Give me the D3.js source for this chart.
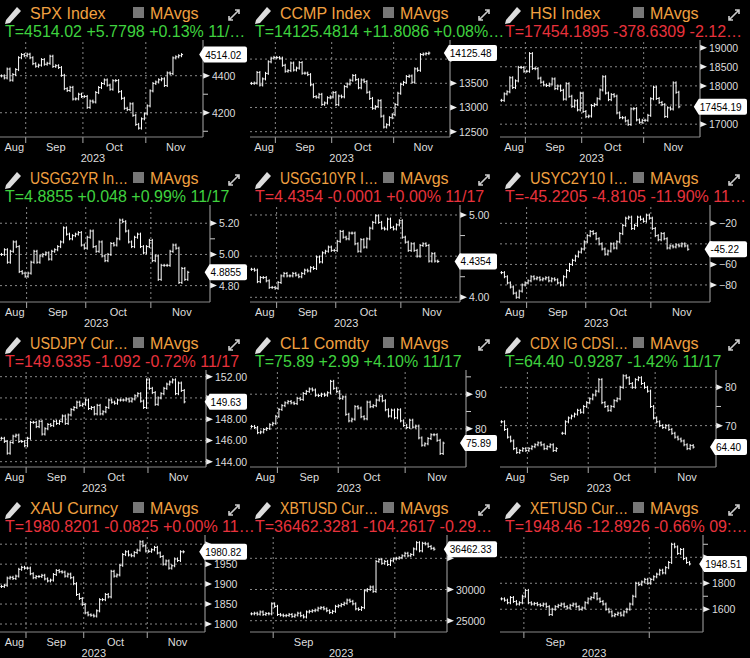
<!DOCTYPE html>
<html><head><meta charset="utf-8">
<script src="https://cdn.jsdelivr.net/npm/d3@7"></script>
<style>body{margin:0;background:#000}svg{display:block}text{font-family:"Liberation Sans",Arial,sans-serif}</style>
</head><body><svg id="c" width="750" height="658"></svg>
<script>
const titles=["SPX Index","CCMP Index","HSI Index","USGG2YR In…","USGG10YR I…","USYC2Y10 I…","USDJPY Cur…","CL1 Comdty","CDX IG CDSI…","XAU Curncy","XBTUSD Cur…","XETUSD Cur…"];
const tLines=["T=4514.02 +5.7798 +0.13% 11/…","T=14125.4814 +11.8086 +0.08%…","T=17454.1895 -378.6309 -2.12…","T=4.8855 +0.048 +0.99% 11/17","T=4.4354 -0.0001 +0.00% 11/17","T=-45.2205 -4.8105 -11.90% 11…","T=149.6335 -1.092 -0.72% 11/17","T=75.89 +2.99 +4.10% 11/17","T=64.40 -0.9287 -1.42% 11/17","T=1980.8201 -0.0825 +0.00% 11…","T=36462.3281 -104.2617 -0.29…","T=1948.46 -12.8926 -0.66% 09:…"];
const tUp=[true,true,false,true,false,false,false,true,true,false,false,false];
const lastLabels=["4514.02","14125.48","17454.19","4.8855","4.4354","-45.22","149.63","75.89","64.40","1980.82","36462.33","1948.51"];
const yDomains=[[4069,4582],[12390,14353],[16665,19147],[4.695,5.304],[3.943,5.097],[-96.6,-4.1],[143.5,152.44],[69,96.4],[59.2,84],[1780,2018],[23189,38414],[1425,2156]];
const majorTicks=[[4200,4400],[12500,13000,13500,14000],[17000,17500,18000,18500,19000],[4.8,5.0,5.2],[4.0,4.5,5.0],[-80,-60,-40,-20],[144,146,148,150,152],[80,90],[70,80],[1800,1850,1900,1950,2000],[25000,30000,35000],[1600,1800,2000]];
const minorTicks=[[4100,4300,4500],[],[],[4.9,5.1],[4.25,4.75],[],[],[75,85,95],[65,75],[],[],[1700,1900,2100]];
const tickFmt=[",.0f","d","d",".2f",".2f","d",".2f","d","d","d","d","d"];
const monthLabels=["Aug","Sep","Oct","Nov"];
const monthIdx=[4.5,19,39.5,61];
const monthBounds=[8.5,28.5,50.5];
const cryptoLabels=["Sep"];
const cryptoIdx=[18];
const cryptoBounds=[7.5,49.5];
const yearLabel="2023";
const axisXs=[203,200,200,210,210,210,206,216,216,205,197,203];
const xMax=[70.5,70.5,70.5,70.5,70.5,70.5,70.5,70.5,70.5,70.5,67.5,67.5];

const spx=[4399,4388,4436,4376,4406,4433,4497,4514,4508,4516,4497,4465,4451,4457,4487,4462,4467,4505,4450,4454,4444,4402,4330,4320,4337,4274,4275,4300,4288,4288,4229,4263,4258,4309,4336,4358,4377,4349,4327,4373,4374,4314,4278,4224,4217,4248,4186,4137,4117,4167,4194,4237,4318,4358,4366,4378,4383,4347,4415,4411,4496,4502,4508,4514];
const ccmp=[13498,13505,13722,13464,13590,13705,13943,14019,14035,14031,14020,13872,13749,13762,13918,13774,13814,13927,13708,13710,13679,13469,13224,13212,13271,13064,13093,13201,13219,13308,13059,13236,13220,13431,13485,13563,13660,13574,13407,13568,13534,13315,13187,12984,13019,13140,12821,12596,12643,12789,12851,13061,13294,13478,13519,13640,13651,13522,13798,13768,14094,14104,14114,14125];
const hsi=[17623,17791,17846,18212,17957,18131,18484,18482,18382,18382,18844,18456,18450,18202,18097,18026,18009,18048,18182,17930,17997,17885,17655,18057,17729,17467,17611,17373,17810,17331,17196,17212,17486,17517,17664,17894,18239,17813,17641,17773,17732,17295,17172,17167,17086,16993,17399,17406,17112,17050,17100,17102,17230,17664,17966,17671,17568,17511,17203,17427,17396,18079,17833,17454];
const us2y=[5.00,5.03,4.95,5.02,5.08,5.05,4.89,4.88,4.86,4.88,4.95,5.02,4.95,4.99,5.00,5.01,4.97,5.02,5.03,5.05,5.08,5.17,5.13,5.10,5.12,5.13,5.14,5.06,5.04,5.11,5.15,5.05,5.02,5.08,4.99,4.96,5.00,5.07,5.06,5.10,5.22,5.21,5.15,5.08,5.05,5.11,5.13,5.05,5.01,5.05,5.09,4.96,4.99,4.84,4.93,4.93,4.93,5.02,5.06,5.04,4.82,4.91,4.84,4.8855];
const us10y=[4.34,4.33,4.19,4.24,4.24,4.20,4.12,4.12,4.11,4.18,4.26,4.29,4.26,4.26,4.29,4.27,4.25,4.29,4.33,4.32,4.36,4.35,4.49,4.43,4.54,4.56,4.61,4.57,4.57,4.68,4.80,4.73,4.71,4.78,4.78,4.65,4.56,4.70,4.61,4.71,4.84,4.91,4.99,4.91,4.84,4.83,4.95,4.85,4.83,4.88,4.93,4.73,4.67,4.57,4.65,4.57,4.50,4.63,4.65,4.63,4.44,4.53,4.44,4.4354];
const yc=[-68,-72,-78,-82,-88,-92,-86,-80,-78,-76,-72,-74,-73,-75,-74,-73,-76,-74,-75,-78,-80,-72,-66,-60,-56,-52,-48,-45,-38,-32,-28,-30,-35,-40,-45,-50,-47,-40,-44,-38,-30,-22,-15,-14,-25,-22,-14,-16,-18,-12,-15,-25,-32,-36,-30,-35,-44,-42,-43,-41,-42,-40,-42,-45.22];
const jpy=[146.2,145.9,144.8,145.8,146.4,146.5,145.9,145.9,145.5,146.2,147.7,147.7,147.3,147.8,146.6,147.1,147.5,147.4,147.8,147.6,147.8,148.3,147.6,148.4,148.9,149.1,149.6,149.3,149.4,149.8,149.0,149.1,148.5,149.3,148.5,148.7,149.1,149.8,149.6,149.5,149.8,149.8,149.8,149.9,149.7,149.9,150.2,150.4,149.7,149.1,151.7,150.9,150.5,149.4,150.0,150.4,150.9,151.3,151.5,151.7,150.4,151.4,150.7,149.63];
const cl1=[80.7,80.4,78.9,79.1,79.8,80.1,81.2,81.6,83.6,85.6,86.7,87.5,87.9,87.5,87.3,88.8,88.5,90.2,90.8,91.5,91.2,89.7,89.6,90.0,89.7,90.4,93.7,91.7,90.8,88.8,89.2,84.2,82.3,82.8,86.4,86.0,83.5,82.9,87.7,86.4,86.7,88.3,89.4,88.1,85.5,83.7,85.4,83.2,85.5,82.3,81.0,80.4,82.5,80.5,80.8,77.4,75.3,75.7,77.2,78.3,78.3,76.7,72.9,75.89];
const cdx=[71,69,67,66,64,63,63.5,64,63.5,64,64.5,65,65.5,65,64,64.5,65,63.5,64,null,68,71,72,72.5,73,74,73.5,75,76,77,78,79,82,76,75,74,75,76.5,77,80,83,82.5,81,80,82,82.5,81,80,79,75,72,71,70,69.5,70,69,68,67,66.5,66,65,64,64.8,64.4];
const xau=[1894,1897,1915,1917,1914,1920,1937,1942,1940,1940,1926,1916,1919,1919,1922,1913,1908,1910,1924,1934,1931,1930,1920,1925,1916,1901,1874,1864,1849,1828,1823,1822,1820,1833,1861,1861,1874,1868,1932,1920,1923,1947,1974,1981,1973,1971,1979,1985,2006,1996,1983,1982,1986,1992,1978,1969,1950,1958,1940,1946,1963,1959,1981,1980.82];
const xbt=[26100,26200,26050,26400,26000,26150,26100,27700,27300,26000,25900,25800,25850,26000,25700,25900,26200,25800,25600,26400,26500,26600,26700,27000,27100,26900,26600,26300,26500,27300,27400,27600,27800,28300,28100,27700,26900,26800,27100,29800,30000,30400,29700,34500,34800,34200,34500,34000,34600,34900,35000,35100,35400,35800,35400,35600,36500,37500,36200,37400,37300,36900,36600,36462];
const xet=[1680,1670,1650,1690,1660,1640,1650,1700,1745,1650,1640,1645,1635,1630,1640,1620,1560,1600,1620,1630,1640,1620,1610,1630,1640,1620,1600,1610,1650,1680,1690,1720,1680,1660,1640,1600,1580,1550,1560,1570,1555,1580,1600,1640,1700,1800,1790,1810,1830,1800,1830,1850,1870,1900,1880,1920,1960,2100,2080,2030,2060,1990,1960,1948.5];
const series=[spx,ccmp,hsi,us2y,us10y,yc,jpy,cl1,cdx,xau,xbt,xet];

const svg=d3.select("#c");
const TOP=42,BOT=137;
series.forEach((data,k)=>{
  const col=k%3,row=Math.floor(k/3);
  const g=svg.append("g").attr("transform",`translate(${col*250},${row*165})`);
  const ax=axisXs[k];
  const x=d3.scaleLinear().domain([-0.5,xMax[k]]).range([0,ax]);
  const y=d3.scaleLinear().domain(yDomains[k]).range([BOT,TOP]);
  const crypto=k>=10;
  g.append("path").attr("d","M6,20 L17,7 L21,11 L10,23 L5,24 Z").attr("fill","#ddd");
  const tt=g.append("text").attr("x",30).attr("y",19).attr("fill","#f0a040").attr("font-size",16).text(titles[k]);
  const w=tt.node().getComputedTextLength();
  if(w>98) tt.attr("textLength",98).attr("lengthAdjust","spacingAndGlyphs");
  g.append("rect").attr("x",133).attr("y",7).attr("width",11).attr("height",11).attr("fill","#777");
  g.append("text").attr("x",150).attr("y",19).attr("fill","#f0a040").attr("font-size",16).text("MAvgs");
  g.append("path").attr("d","M229,20 L239,10 M235,10 L239,10 L239,14 M229,16 L229,20 L233,20").attr("stroke","#ccc").attr("stroke-width",1.6).attr("fill","none");
  g.append("text").attr("x",5).attr("y",37).attr("fill",tUp[k]?"#3fd23f":"#e8323c").attr("font-size",16).text(tLines[k]);
  const bounds=crypto?cryptoBounds:monthBounds;
  bounds.forEach(b=>{
    g.append("line").attr("x1",x(b)).attr("x2",x(b)).attr("y1",TOP).attr("y2",BOT).attr("stroke","#888").attr("stroke-dasharray","2,3");
    g.append("line").attr("x1",x(b)).attr("x2",x(b)).attr("y1",BOT).attr("y2",BOT+6).attr("stroke","#aaa");
  });
  const lastY=y(data[data.length-1]);
  majorTicks[k].forEach(t=>{
    const ty=y(t); if(ty<TOP-2||ty>BOT+2)return;
    g.append("line").attr("x1",0).attr("x2",ax).attr("y1",ty).attr("y2",ty).attr("stroke","#888").attr("stroke-dasharray","2,3");
    g.append("path").attr("d",`M${ax},${ty-3} L${ax+7},${ty} L${ax},${ty+3} Z`).attr("fill","#eee");
    if(Math.abs(ty-lastY)>12) g.append("text").attr("x",ax+9).attr("y",ty+4).attr("fill","#ddd").attr("font-size",10.5).text(d3.format(tickFmt[k])(t).replace(/,/g,""));
  });
  minorTicks[k].forEach(t=>{const ty=y(t);if(ty<TOP||ty>BOT)return;g.append("line").attr("x1",ax).attr("x2",ax+5).attr("y1",ty).attr("y2",ty).attr("stroke","#ccc");});
  g.append("line").attr("x1",ax).attr("x2",ax).attr("y1",TOP-2).attr("y2",BOT).attr("stroke","#aaa");
  g.append("line").attr("x1",0).attr("x2",ax).attr("y1",BOT).attr("y2",BOT).attr("stroke","#888");
  data.forEach((v,i)=>{
    if(v==null)return;
    const o=(i>0&&data[i-1]!=null)?data[i-1]:v;
    const xi=x(i);
    const hi=Math.max(o,v),lo=Math.min(o,v);
    g.append("line").attr("x1",xi).attr("x2",xi).attr("y1",y(hi)-1.5).attr("y2",y(lo)+1.5).attr("stroke","#fff");
    g.append("line").attr("x1",xi-1).attr("x2",xi).attr("y1",y(o)).attr("y2",y(o)).attr("stroke","#fff");
    g.append("line").attr("x1",xi).attr("x2",xi+1.5).attr("y1",y(v)).attr("y2",y(v)).attr("stroke","#fff");
  });
  const tw=lastLabels[k].length*5.4+3;
  const lx=Math.min(ax+3, 247-tw-7);
  const lab=g.append("g");
  lab.append("path").attr("d",`M${lx},${lastY} L${lx+5},${lastY-8} L${lx+5+tw},${lastY-8} Q${lx+7+tw},${lastY-8} ${lx+7+tw},${lastY-6} L${lx+7+tw},${lastY+6} Q${lx+7+tw},${lastY+8} ${lx+5+tw},${lastY+8} L${lx+5},${lastY+8} Z`).attr("fill","#fff");
  lab.append("text").attr("x",lx+6).attr("y",lastY+4).attr("fill","#000").attr("font-size",10).text(lastLabels[k]);
  const ml=crypto?cryptoLabels:monthLabels, mi=crypto?cryptoIdx:monthIdx;
  ml.forEach((m,j)=>g.append("text").attr("x",x(mi[j])).attr("y",BOT+14).attr("text-anchor","middle").attr("fill","#ddd").attr("font-size",11).text(m));
  g.append("text").attr("x",x(crypto?31:32)).attr("y",BOT+25).attr("text-anchor","middle").attr("fill","#ddd").attr("font-size",11).text(yearLabel);
});
</script></body></html>
